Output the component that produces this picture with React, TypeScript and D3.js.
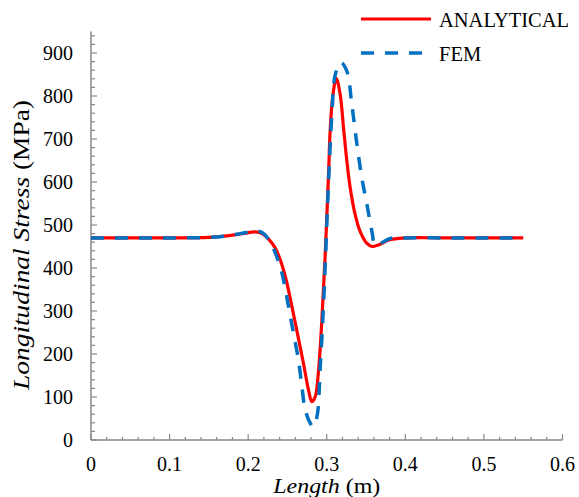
import React from "react";
import * as d3 from "d3";

// Length (m) and longitudinal stress (MPa)
const analyticalX = [0, 0.05, 0.1, 0.15, 0.17, 0.19, 0.209, 0.218, 0.226, 0.234, 0.241, 0.248, 0.2555, 0.263, 0.2704, 0.2768, 0.2811, 0.2854, 0.2896, 0.2938, 0.298, 0.3023, 0.3045, 0.3078, 0.3121, 0.3172, 0.3214, 0.3257, 0.33, 0.3363, 0.3427, 0.3512, 0.3576, 0.368, 0.3788, 0.4, 0.45, 0.5, 0.55];
const analyticalY = [470, 470, 470, 471, 474, 479, 484, 480, 467, 448, 418, 375, 312, 245, 178, 116, 89, 101, 163, 279, 430, 620, 725, 802, 841, 802, 725, 647, 585, 523, 484, 457, 450, 455, 465, 470, 470, 470, 470];

const femX = [0, 0.05, 0.1, 0.15, 0.17, 0.19, 0.21, 0.219, 0.227, 0.235, 0.243, 0.2514, 0.2577, 0.264, 0.2684, 0.2726, 0.279, 0.2825, 0.2875, 0.2917, 0.296, 0.3023, 0.3066, 0.3108, 0.318, 0.3257, 0.332, 0.3385, 0.3448, 0.3512, 0.3576, 0.3618, 0.3724, 0.381, 0.4, 0.45, 0.5, 0.55];
const femY = [470, 470, 470, 471, 474, 480, 486, 481, 464, 433, 388, 310, 248, 186, 124, 70, 39, 31, 54, 170, 318, 600, 760, 849, 878, 857, 779, 686, 608, 547, 484, 453, 461, 469, 470, 470, 470, 470];

const xTicks = [0, 0.1, 0.2, 0.3, 0.4, 0.5, 0.6];
const yTicks = [0, 100, 200, 300, 400, 500, 600, 700, 800, 900];

const W = 579;
const H = 497;
const AXIS = "#898989";
const FONT = "Liberation Serif";

export default function App() {
  const x = d3.scaleLinear().domain([0, 0.6]).range([91, 562.5]);
  const y = d3.scaleLinear().domain([0, 950]).range([440, 31.5]);

  const line = d3
    .line<[number, number]>()
    .x((d) => x(d[0]))
    .y((d) => y(d[1]))
    .curve(d3.curveCatmullRom.alpha(0.5));

  const analytical = analyticalX.map((v, i) => [v, analyticalY[i]] as [number, number]);
  const fem = femX.map((v, i) => [v, femY[i]] as [number, number]);

  const xMinor = d3.range(0, 0.6001, 0.02);
  const yMinor = d3.range(0, 950, 20);
  const txt = { fontFamily: FONT, fill: "#000" };

  return (
    <svg
      width={W}
      height={H}
      style={{ position: "absolute", left: 0, top: 0, background: "#fff" }}
    >
      {/* axes */}
      <line x1={x(0)} x2={x(0)} y1={y(0)} y2={y(950)} stroke={AXIS} strokeWidth={1.5} />
      <line x1={x(0)} x2={x(0.6)} y1={y(0)} y2={y(0)} stroke={AXIS} strokeWidth={1.5} />
      {yMinor.map((v) => (
        <line
          key={"ym" + v}
          x1={x(0)}
          x2={x(0) + (v % 100 === 0 ? 6 : 4)}
          y1={y(v)}
          y2={y(v)}
          stroke={AXIS}
          strokeWidth={1.2}
        />
      ))}
      {xMinor.map((v, i) => (
        <line
          key={"xm" + i}
          x1={x(v)}
          x2={x(v)}
          y1={y(0)}
          y2={y(0) - (i % 5 === 0 ? 6 : 3)}
          stroke={AXIS}
          strokeWidth={1.2}
        />
      ))}
      {yTicks.map((v) => (
        <text key={"yl" + v} x={73} y={y(v) + 7} textAnchor="end" fontSize={20} style={txt}>
          {v}
        </text>
      ))}
      {xTicks.map((v) => (
        <text key={"xl" + v} x={x(v)} y={471} textAnchor="middle" fontSize={20} style={txt}>
          {v}
        </text>
      ))}

      {/* titles */}
      <text
        x={x(0.3)}
        y={493}
        textAnchor="middle"
        fontSize={22}
        textLength={107}
        lengthAdjust="spacingAndGlyphs"
        style={txt}
      >
        <tspan fontStyle="italic">Length</tspan> (m)
      </text>
      <text
        transform="translate(29,245) rotate(-90)"
        textAnchor="middle"
        fontSize={23}
        textLength={290}
        lengthAdjust="spacingAndGlyphs"
        style={txt}
      >
        <tspan fontStyle="italic">Longitudinal Stress</tspan> (MPa)
      </text>

      {/* series */}
      <path d={line(analytical) ?? ""} fill="none" stroke="#ff0000" strokeWidth={3.2} />
      <path
        d={line(fem) ?? ""}
        fill="none"
        stroke="#0070c0"
        strokeWidth={3.5}
        strokeDasharray="13 11"
      />

      {/* legend */}
      <line x1={361} x2={431} y1={19} y2={19} stroke="#ff0000" strokeWidth={3.2} />
      <text x={439} y={27} fontSize={20.5} style={txt}>ANALYTICAL</text>
      <line x1={361} x2={431} y1={53} y2={53} stroke="#0070c0" strokeWidth={3.5} strokeDasharray="13 11" />
      <text x={439} y={61} fontSize={20.5} style={txt}>FEM</text>
    </svg>
  );
}
